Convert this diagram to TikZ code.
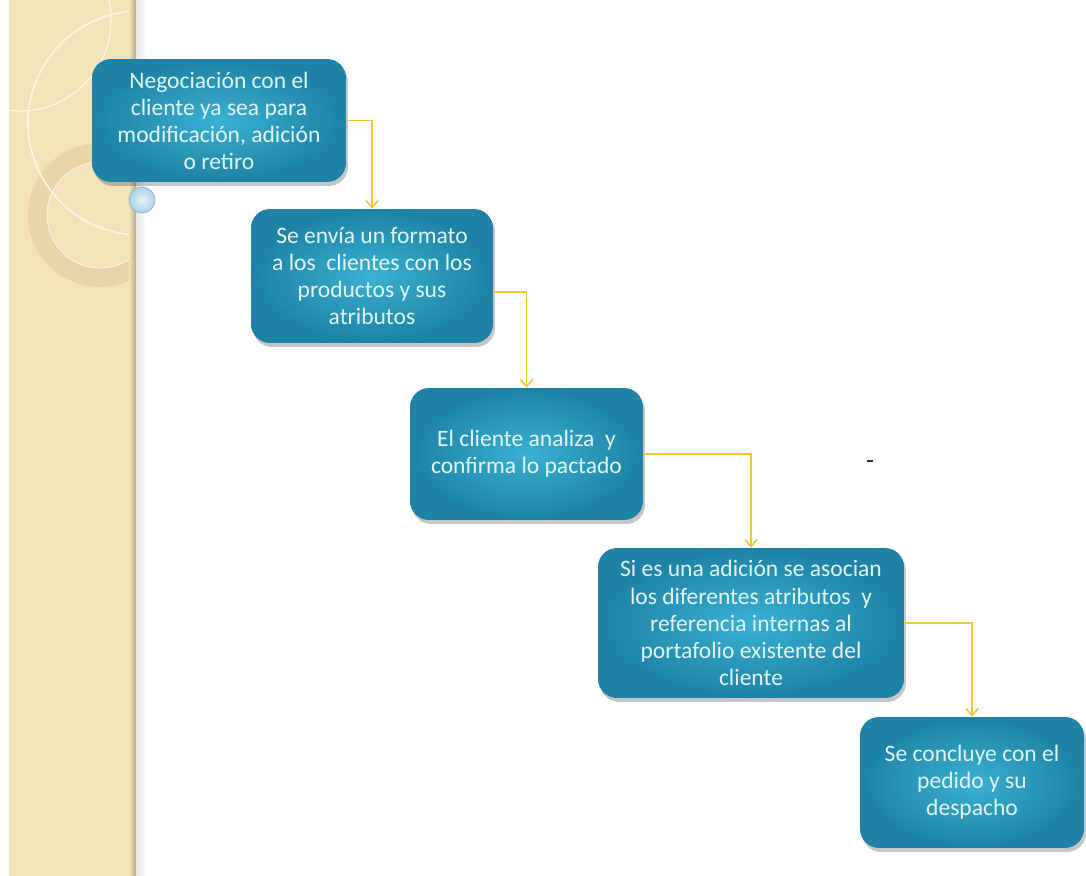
\documentclass[tikz,border=0pt]{standalone}
\usepackage{fontspec}
\setmainfont{Carlito}
\usetikzlibrary{arrows.meta,shadows}
\definecolor{boxin}{HTML}{3AB1D3}
\definecolor{boxout}{HTML}{1D82A5}
\definecolor{txt}{HTML}{E2F5F6}
\definecolor{link}{HTML}{F2C53E}
\definecolor{paper}{HTML}{F3E3B8}
\definecolor{ring}{HTML}{E8D6A8}
\definecolor{ringedge}{HTML}{FBF4E2}
\definecolor{knobin}{HTML}{EAF5FC}
\definecolor{knobout}{HTML}{A9D1EA}
\begin{document}
\begin{tikzpicture}[x=0.02cm,y=-0.02cm,
  stepbox/.style={rounded corners=0.38cm, inner color=boxin, outer color=boxout,
    text=txt, align=center, font=\fontsize{13.4}{15.4}\selectfont,
    drop shadow={shadow xshift=0.04cm, shadow yshift=-0.08cm, opacity=0.28, fill=black!80}},
  link/.style={draw=link, line width=0.9pt, -{Straight Barb[length=4pt,width=7pt]}}]
\useasboundingbox (0,0) rectangle (1086,876);
\fill[white] (0,0) rectangle (1086,876);

% decorative side strip
\fill[paper] (9,0) rectangle (136,876);
\begin{scope}
  \clip (9,0) rectangle (136,876);
  \draw[ring, line width=0.38cm] (100,215) circle[radius=1.25cm];
  \draw[ringedge, line width=0.5pt] (100,215) circle[radius=1.06cm];
  \draw[ringedge, line width=1pt] (140,123) circle[radius=2.24cm];
  \draw[ringedge, line width=0.8pt] (20,20) circle[radius=1.82cm];
\end{scope}
\shade[left color=paper, right color=paper!75!black] (129,0) rectangle (136,876);
\shade[left color=black!10, right color=white] (136,0) rectangle (147,876);

% process steps
\node[stepbox, minimum width=5.08cm, minimum height=2.46cm] (b1) at (219,120.5)
  {Negociación con el\\cliente ya sea para\\modificación, adición\\o retiro};
\node[stepbox, minimum width=4.84cm, minimum height=2.68cm] (b2) at (372,276)
  {Se envía un formato\\a los~ clientes con los\\productos y sus\\atributos};
\node[stepbox, minimum width=4.66cm, minimum height=2.64cm] (b3) at (526.5,454)
  {El cliente analiza~ y\\confirma lo pactado};
\node[stepbox, minimum width=6.12cm, minimum height=3.0cm] (b4) at (751,623)
  {Si es una adición se asocian\\los diferentes atributos~ y\\referencia internas al\\portafolio existente del\\cliente};
\node[stepbox, minimum width=4.48cm, minimum height=2.62cm] (b5) at (972,782.5)
  {Se concluye con el\\pedido y su\\despacho};

% small knob under the first step
\node[circle, minimum size=0.52cm, inner sep=0pt, draw=knobout!60!gray,
  inner color=knobin, outer color=knobout] (knob) at (142,200) {};

% connectors
\coordinate (k2) at (0,292);
\draw[link] (b1.east) -| (b2.north);
\draw[link] (b2.east |- k2) -| (b3.north);
\draw[link] (b3.east) -| (b4.north);
\draw[link] (b4.east) -| (b5.north);

% stray mark
\draw[black!80, line width=1.1pt] (867,461) -- (873,461);
\end{tikzpicture}
\end{document}
